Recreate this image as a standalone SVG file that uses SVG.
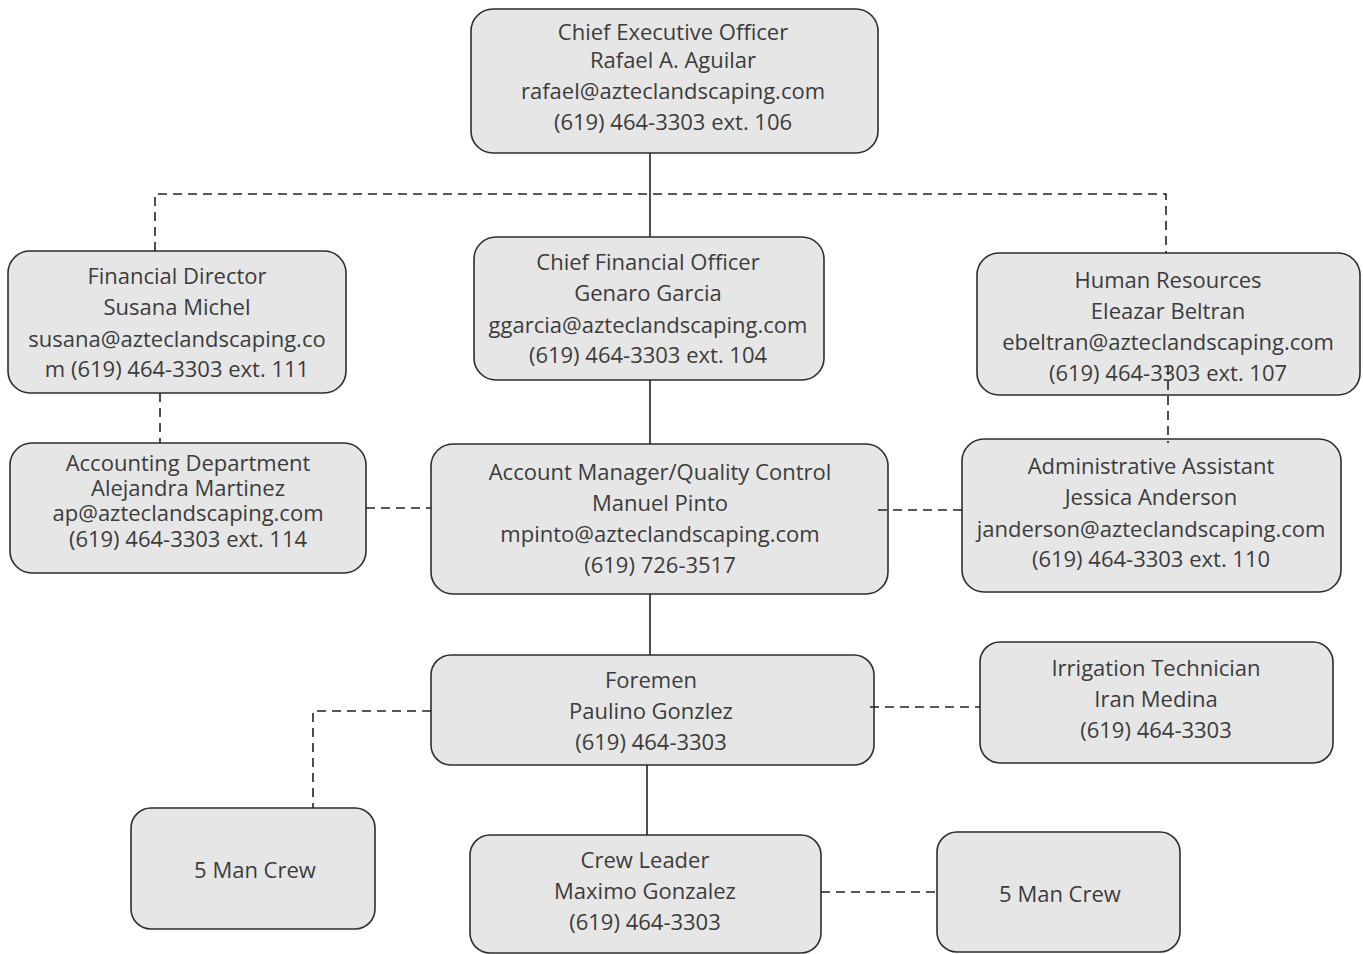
<svg xmlns="http://www.w3.org/2000/svg" width="1363" height="954" viewBox="0 0 1363 954">
<style>
.box{fill:#e6e6e6;stroke:#2e2e2e;stroke-width:1.6}
.t{font-family:"Open Sans","Noto Sans","Liberation Sans",sans-serif;font-size:22px;fill:#3c3c3c;text-anchor:middle}
.solid{stroke:#222;stroke-width:1.6;fill:none}
.dash{stroke:#222;stroke-width:1.6;fill:none;stroke-dasharray:9 6}
</style>
<rect width="1363" height="954" fill="#fff"/>
<g id="ceo">
<rect class="box" x="471" y="9" width="407" height="144" rx="22"/>
<text class="t" x="673" y="40">Chief Executive Officer</text>
<text class="t" x="673" y="68">Rafael A. Aguilar</text>
<text class="t" x="673" y="99">rafael@azteclandscaping.com</text>
<text class="t" x="673" y="130">(619) 464-3303 ext. 106</text>
</g>
<g id="financial-director">
<rect class="box" x="8" y="251" width="338" height="142" rx="22"/>
<text class="t" x="177" y="284">Financial Director</text>
<text class="t" x="177" y="315">Susana Michel</text>
<text class="t" x="177" y="347">susana@azteclandscaping.co</text>
<text class="t" x="177" y="377">m (619) 464-3303 ext. 111</text>
</g>
<g id="cfo">
<rect class="box" x="474" y="237" width="350" height="143" rx="22"/>
<text class="t" x="648" y="270">Chief Financial Officer</text>
<text class="t" x="648" y="301">Genaro Garcia</text>
<text class="t" x="648" y="333">ggarcia@azteclandscaping.com</text>
<text class="t" x="648" y="363">(619) 464-3303 ext. 104</text>
</g>
<g id="hr">
<rect class="box" x="977" y="253" width="383" height="142" rx="22"/>
<text class="t" x="1168" y="288">Human Resources</text>
<text class="t" x="1168" y="319">Eleazar Beltran</text>
<text class="t" x="1168" y="350">ebeltran@azteclandscaping.com</text>
<text class="t" x="1168" y="381">(619) 464-3303 ext. 107</text>
</g>
<g id="accounting">
<rect class="box" x="10" y="443" width="356" height="130" rx="22"/>
<text class="t" x="188" y="471">Accounting Department</text>
<text class="t" x="188" y="496">Alejandra Martinez</text>
<text class="t" x="188" y="521">ap@azteclandscaping.com</text>
<text class="t" x="188" y="547">(619) 464-3303 ext. 114</text>
</g>
<g id="account-manager">
<rect class="box" x="431" y="444" width="457" height="150" rx="22"/>
<text class="t" x="660" y="480">Account Manager/Quality Control</text>
<text class="t" x="660" y="511">Manuel Pinto</text>
<text class="t" x="660" y="542">mpinto@azteclandscaping.com</text>
<text class="t" x="660" y="573">(619) 726-3517</text>
</g>
<g id="admin-assistant">
<rect class="box" x="962" y="439" width="379" height="153" rx="22"/>
<text class="t" x="1151" y="474">Administrative Assistant</text>
<text class="t" x="1151" y="505">Jessica Anderson</text>
<text class="t" x="1151" y="537">janderson@azteclandscaping.com</text>
<text class="t" x="1151" y="567">(619) 464-3303 ext. 110</text>
</g>
<g id="foremen">
<rect class="box" x="431" y="655" width="443" height="110" rx="20"/>
<text class="t" x="651" y="688">Foremen</text>
<text class="t" x="651" y="719">Paulino Gonzlez</text>
<text class="t" x="651" y="750">(619) 464-3303</text>
</g>
<g id="irrigation">
<rect class="box" x="980" y="642" width="353" height="121" rx="20"/>
<text class="t" x="1156" y="676">Irrigation Technician</text>
<text class="t" x="1156" y="707">Iran Medina</text>
<text class="t" x="1156" y="738">(619) 464-3303</text>
</g>
<g id="crew-left">
<rect class="box" x="131" y="808" width="244" height="121" rx="20"/>
<text class="t" x="255" y="878">5 Man Crew</text>
</g>
<g id="crew-leader">
<rect class="box" x="470" y="835" width="351" height="118" rx="20"/>
<text class="t" x="645" y="868">Crew Leader</text>
<text class="t" x="645" y="899">Maximo Gonzalez</text>
<text class="t" x="645" y="930">(619) 464-3303</text>
</g>
<g id="crew-right">
<rect class="box" x="937" y="832" width="243" height="120" rx="20"/>
<text class="t" x="1060" y="902">5 Man Crew</text>
</g>
<g id="connectors">
<path class="solid" d="M650 153V237"/>
<path class="dash" d="M155 251V194H1166V253"/>
<path class="dash" d="M160 393V443"/>
<path class="solid" d="M650 380V444"/>
<path class="dash" d="M366 508H431"/>
<path class="dash" d="M878 510H962"/>
<path class="dash" d="M1168 366V443"/>
<path class="solid" d="M650 594V655"/>
<path class="dash" d="M431 711H313V808"/>
<path class="dash" d="M870 707H980"/>
<path class="solid" d="M647 765V835"/>
<path class="dash" d="M821 892H937"/>
</g>
</svg>
